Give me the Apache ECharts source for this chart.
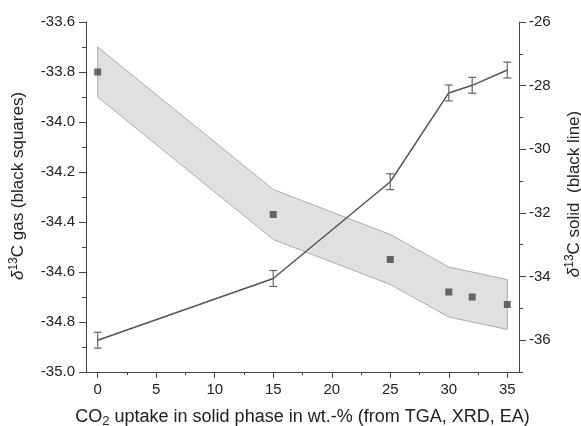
<!DOCTYPE html>
<html>
  <head>
    <meta charset="utf-8" />
    <title></title>
    <style>
      body {
        margin: 0;
        padding: 0;
      }
      #chart {
        width: 581px;
        height: 426px;
      }
    </style>
    <script src="https://cdn.jsdelivr.net/npm/echarts@6/dist/echarts.min.js"></script>
  </head>

  <body>
    <div id="chart"></div>
  </body>
  <script>
    // gas: black squares (left axis)
    let gasX = [0, 15, 25, 30, 32, 35];
    let gasY = [-33.8, -34.37, -34.55, -34.68, -34.7, -34.73];

    // grey band around the gas values
    let bandX = [0, 15, 25, 30, 35];
    let bandUpper = [-33.7, -34.27, -34.45, -34.58, -34.63];
    let bandLower = [-33.9, -34.47, -34.65, -34.78, -34.83];

    // solid: black line with error bars (right axis)
    let solidX = [0, 15, 25, 30, 32, 35];
    let solidY = [-36.0, -34.06, -31.02, -28.23, -27.99, -27.51];
    let solidErr = [0.25, 0.25, 0.25, 0.25, 0.25, 0.25];

    // tick labels
    let xTicks = [0, 5, 10, 15, 20, 25, 30, 35];
    let xMinorTicks = [2.5, 7.5, 12.5, 17.5, 22.5, 27.5, 32.5];
    let solidTicks = [-36, -34, -32, -30, -28, -26];
    let solidMinorTicks = [-37, -35, -33, -31, -29, -27];

    const font = "Liberation Sans";
    const textColor = "#222";
    const lineColor = "#444";
    const gridRect = { left: 86, right: 62, top: 22, bottom: 54, outerBoundsMode: "none" };

    function richFor(size) {
      return {
        t: { fontFamily: font, fontSize: size, color: textColor, lineHeight: size + 4 },
        d: { fontFamily: font, fontSize: size, color: textColor, fontStyle: "italic", lineHeight: size + 4 },
        sup: { fontFamily: font, fontSize: size - 5, color: textColor, lineHeight: size - 4, verticalAlign: "top" },
        sub: { fontFamily: font, fontSize: size - 5, color: textColor, lineHeight: size - 4, verticalAlign: "bottom" },
      };
    }

    function xAxisBase() {
      return {
        type: "value",
        position: "bottom",
        min: -1,
        max: 36,
        splitLine: { show: false },
        axisLine: { show: true, onZero: false, lineStyle: { color: lineColor } },
      };
    }

    function yAxisBase(pos) {
      return {
        type: "value",
        position: pos,
        splitLine: { show: false },
        axisLine: { show: true, onZero: false, lineStyle: { color: lineColor } },
      };
    }

    const option = {
      animation: false,
      // second grid, same rect, only carries the minor ticks
      grid: [Object.assign({}, gridRect), Object.assign({}, gridRect)],
      xAxis: [
        Object.assign(xAxisBase(), {
          gridIndex: 0,
          name: "{t|CO}{sub|2}{t| uptake in solid phase in wt.-% (from TGA, XRD, EA)}",
          nameLocation: "middle",
          nameGap: 34,
          nameTextStyle: { rich: richFor(18) },
          axisTick: { show: true, length: 6, customValues: xTicks, lineStyle: { color: lineColor } },
          axisLabel: {
            customValues: xTicks,
            margin: 10,
            fontFamily: font,
            fontSize: 15,
            color: textColor,
          },
        }),
        Object.assign(xAxisBase(), {
          gridIndex: 1,
          axisLine: { show: false, onZero: false },
          axisTick: { show: true, length: 3, customValues: xMinorTicks, lineStyle: { color: lineColor } },
          axisLabel: { show: false },
        }),
      ],
      yAxis: [
        Object.assign(yAxisBase("left"), {
          gridIndex: 0,
          min: -35,
          max: -33.6,
          interval: 0.2,
          name: "{d|δ}{sup|13}{t|C gas (black squares)}",
          nameLocation: "middle",
          nameRotate: 90,
          nameGap: 57,
          nameTextStyle: { rich: richFor(17), padding: [0, 0, 0, 22] },
          axisTick: { show: true, length: 7, lineStyle: { color: lineColor } },
          minorTick: { show: true, splitNumber: 2, length: 4, lineStyle: { color: lineColor } },
          axisLabel: {
            margin: 11,
            fontFamily: font,
            fontSize: 15,
            color: textColor,
            formatter: (v) => v.toFixed(1),
          },
        }),
        Object.assign(yAxisBase("right"), {
          gridIndex: 0,
          min: -37,
          max: -26,
          name: "{d|δ}{sup|13}{t|C solid  (black line)}",
          nameLocation: "middle",
          nameRotate: 90,
          nameGap: 45,
          nameTextStyle: { rich: richFor(17), padding: [0, 0, 0, 6] },
          axisTick: { show: true, length: 7, customValues: solidTicks, lineStyle: { color: lineColor } },
          axisLabel: {
            customValues: solidTicks,
            margin: 10,
            fontFamily: font,
            fontSize: 15,
            color: textColor,
          },
        }),
        Object.assign(yAxisBase("right"), {
          gridIndex: 1,
          min: -37,
          max: -26,
          axisLine: { show: false, onZero: false },
          axisTick: { show: true, length: 4, customValues: solidMinorTicks, lineStyle: { color: lineColor } },
          axisLabel: { show: false },
        }),
      ],
      series: [
        {
          type: "custom",
          xAxisIndex: 0,
          yAxisIndex: 0,
          z: 1,
          data: bandX.map((x, i) => [x, bandUpper[i], bandLower[i]]),
          encode: { x: 0, y: [1, 2] },
          renderItem: (params, api) => {
            if (params.dataIndex !== 0) return;
            let pts = [];
            bandX.forEach((x, i) => pts.push(api.coord([x, bandUpper[i]])));
            for (let i = bandX.length - 1; i >= 0; i--) {
              pts.push(api.coord([bandX[i], bandLower[i]]));
            }
            return {
              type: "polygon",
              shape: { points: pts },
              style: { fill: "#e0e0e0", stroke: "#9a9a9a", lineWidth: 0.8 },
            };
          },
        },
        {
          type: "scatter",
          xAxisIndex: 0,
          yAxisIndex: 0,
          z: 3,
          symbol: "rect",
          symbolSize: 7,
          itemStyle: { color: "#454545" },
          data: gasX.map((x, i) => [x, gasY[i]]),
        },
        {
          type: "line",
          xAxisIndex: 0,
          yAxisIndex: 1,
          z: 4,
          symbol: "none",
          lineStyle: { color: "#555", width: 1.5 },
          data: solidX.map((x, i) => [x, solidY[i]]),
        },
        {
          type: "custom",
          xAxisIndex: 0,
          yAxisIndex: 1,
          z: 5,
          data: solidX.map((x, i) => [x, solidY[i], solidErr[i]]),
          renderItem: (params, api) => {
            const x = api.value(0);
            const y = api.value(1);
            const e = api.value(2);
            const top = api.coord([x, y + e]);
            const bot = api.coord([x, y - e]);
            const w = 4;
            const st = { stroke: "#666", lineWidth: 1.2 };
            return {
              type: "group",
              children: [
                { type: "line", shape: { x1: top[0], y1: top[1], x2: bot[0], y2: bot[1] }, style: st },
                { type: "line", shape: { x1: top[0] - w, y1: top[1], x2: top[0] + w, y2: top[1] }, style: st },
                { type: "line", shape: { x1: bot[0] - w, y1: bot[1], x2: bot[0] + w, y2: bot[1] }, style: st },
              ],
            };
          },
        },
      ],
    };

    let myChart = echarts.init(document.getElementById("chart"));
    myChart.setOption(option);
  </script>
</html>
